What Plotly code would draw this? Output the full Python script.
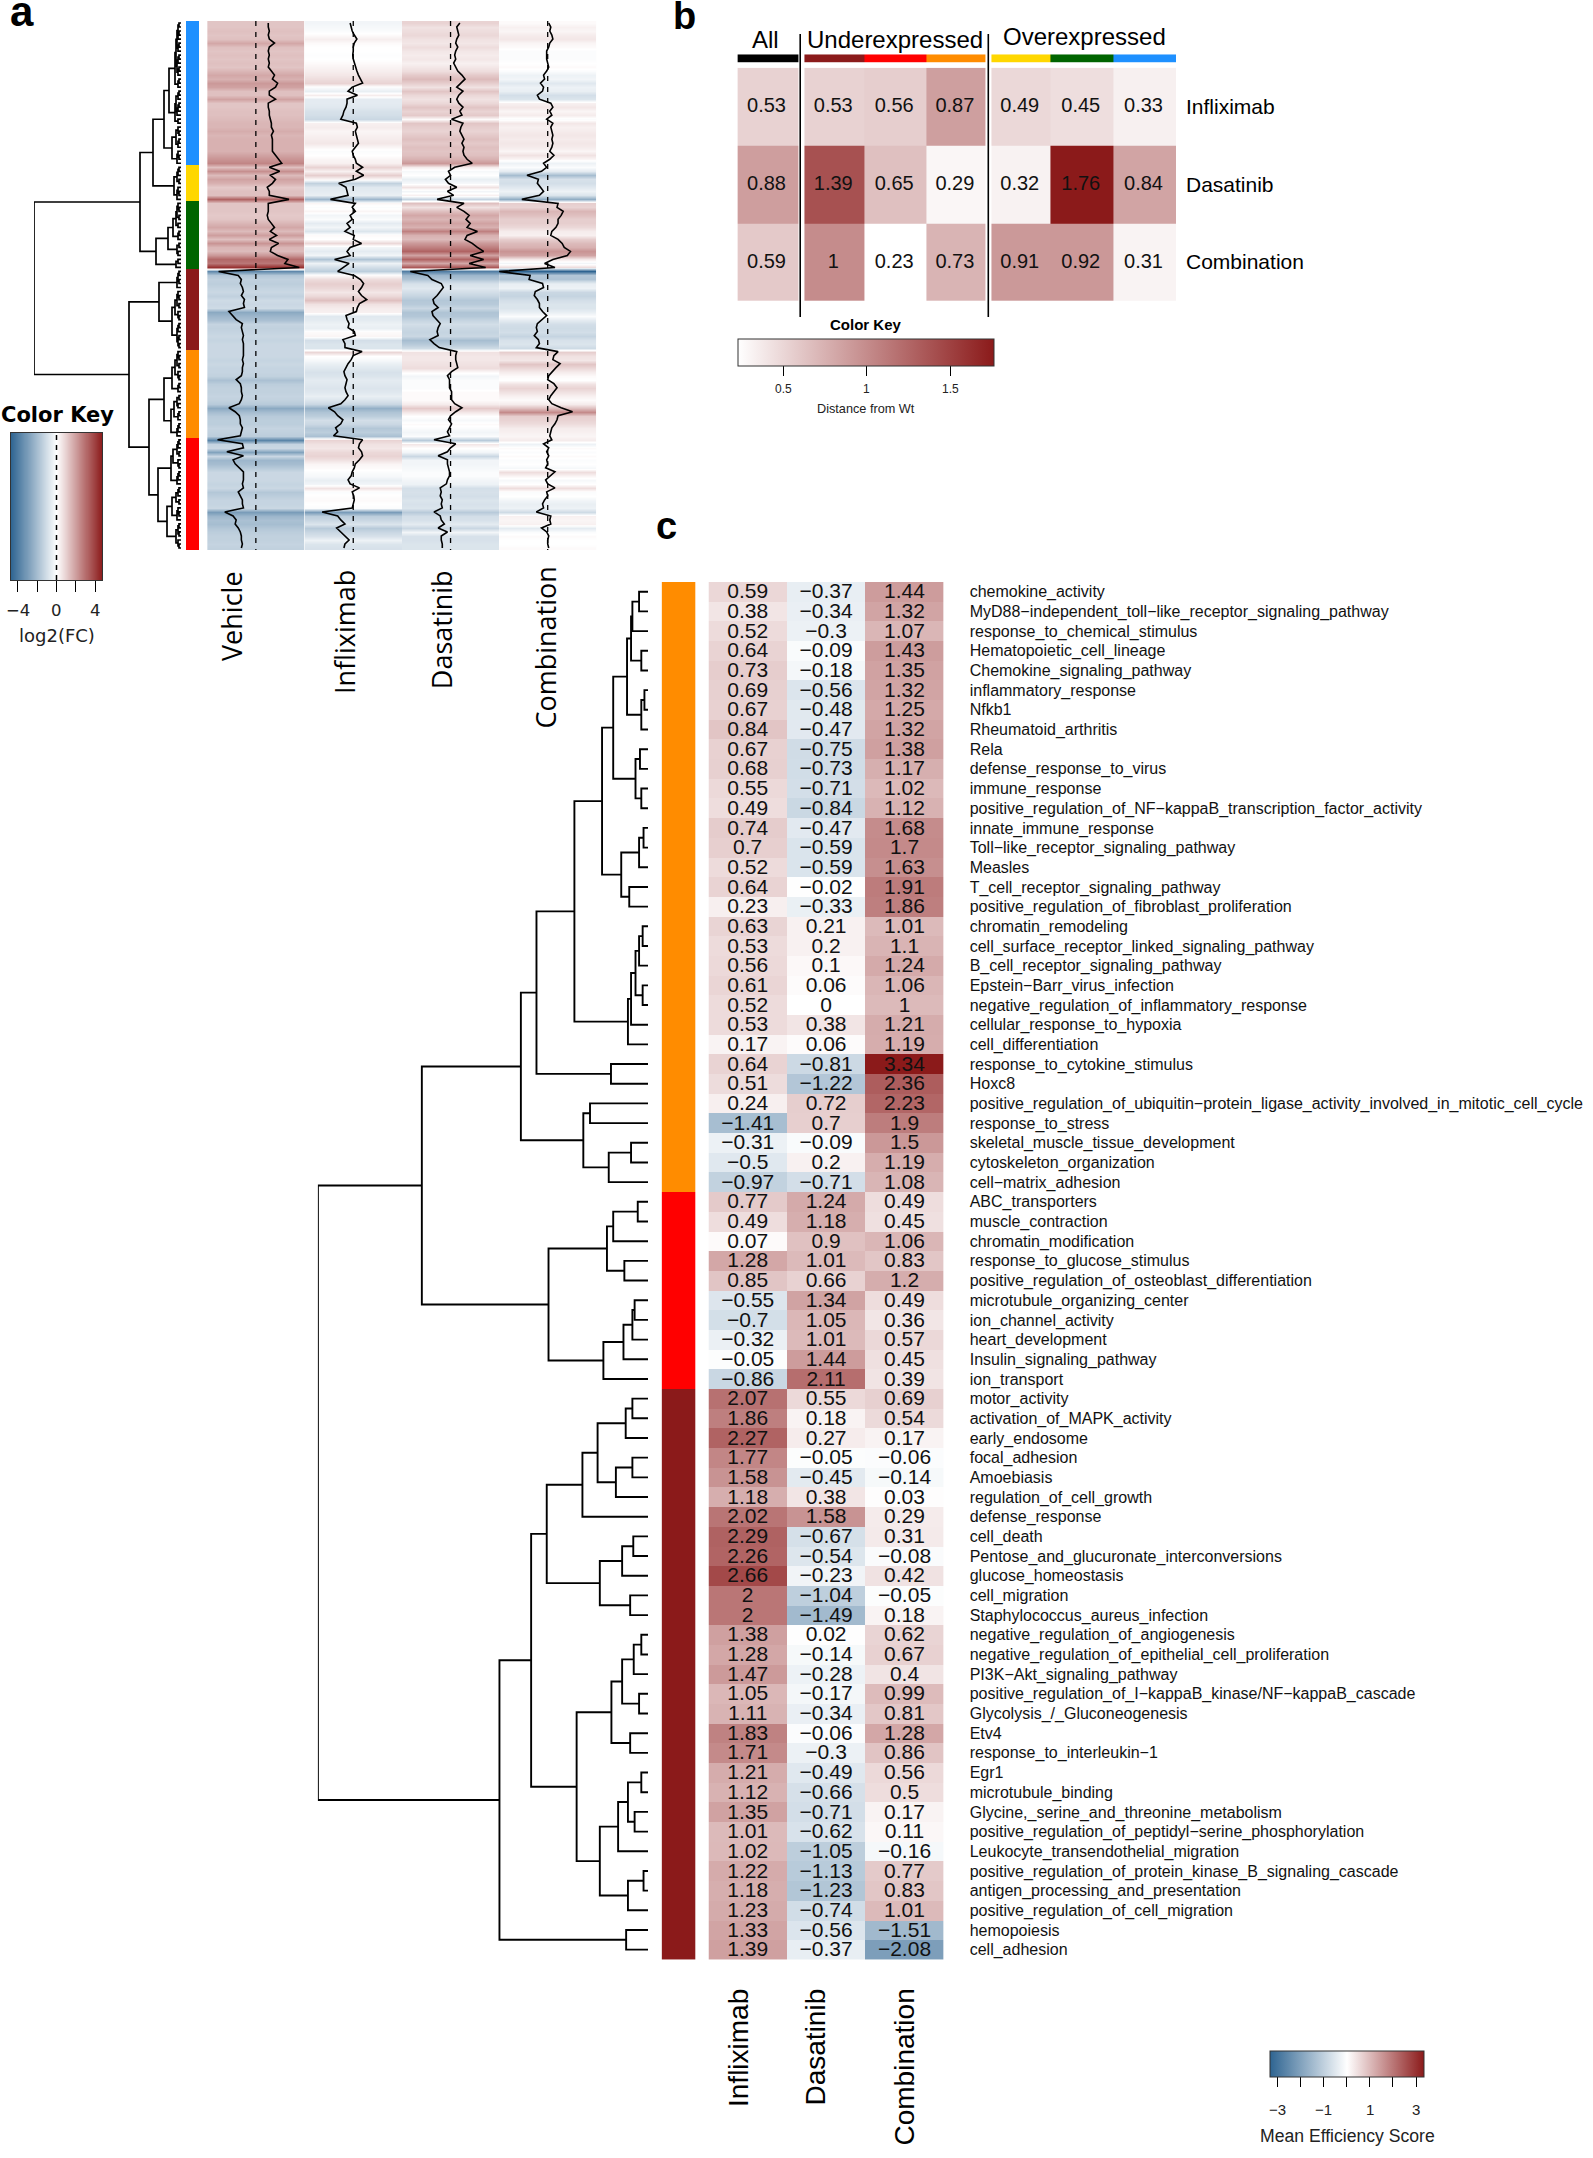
import numpy as np
import plotly.graph_objects as go

W, H = 1593, 2158
FONT = "Liberation Sans"

# ---------- palette ----------
DARKRED, RED, ORANGE, GOLD, GREEN, BLUE = "#8B1A1A", "#FF0000", "#FF8C00", "#FFD700", "#006400", "#1E90FF"
DIVERGING = [[0, "#2E6491"], [0.5, "#FFFFFF"], [1, "#8B1A1A"]]
SEQUENTIAL = [[0, "#FFFFFF"], [1, "#8B1A1A"]]

a_group_colors = [BLUE, GOLD, GREEN, DARKRED, ORANGE, RED]
a_group_sizes = [36, 9, 17, 20, 22, 28]
a_columns = ["Vehicle", "Infliximab", "Dasatinib", "Combination"]
a_vehicle = [
    1.2,1.2,1.3,1.2,1.3,1.8,1.3,1.2,1.3,1.2,1.3,1.2,1.5,1.8,1.6,2.1,1.9,1.3,1.3,1.9,1.2,1.2,1.3,1.3,1.4,1.5,1.5,1.7,1.5,1.6,1.6,1.6,1.6,1.9,2.2,2.5,
    1.3,2.3,1.4,1.9,1.6,1.1,1.3,1.3,3.2,
    1.2,1.2,1.2,1.1,1.2,1.5,1.8,1.4,2.0,1.3,2.2,1.5,1.4,2.1,3.1,2.8,4.2,
    -3.6,-1.7,-1.4,-1.5,-1.3,-1.2,-1.4,-1.1,-1.2,-1.1,-2.6,-2.2,-1.9,-1.3,-1.4,-1.3,-1.2,-1.3,-1.2,-1.2,
    -1.2,-1.2,-1.3,-1.2,-1.3,-1.3,-1.4,-1.9,-1.5,-1.4,-1.4,-1.3,-1.4,-1.6,-2.6,-2.0,-1.6,-1.5,-1.5,-1.3,-1.4,-1.5,
    -3.7,-1.3,-1.2,-2.8,-1.2,-2.2,-2.0,-1.6,-1.2,-1.2,-1.2,-1.3,-1.2,-1.7,-1.5,-1.3,-1.3,-1.2,-3.0,-2.2,-1.9,-2.0,-1.7,-1.5,-1.4,-1.4,-1.3,-1.4]
a_infliximab = [
    -.3,-.2,-.1,.1,.35,.1,0,0,-.05,0,.1,.25,.35,.5,.7,.9,-.1,-.5,.4,-.6,-.6,-.7,-.9,-1.0,-1.2,.3,.4,.2,.3,.4,.5,.2,-.1,0,.2,.3,
    .9,.3,1.0,.2,-1.4,-.7,-.6,-.5,-2.2,
    .2,-.1,.2,-.3,-.1,-.6,-.3,-.8,.1,0,.8,-.3,-.6,-.3,-1.8,-.4,-1.0,
    -1.5,.1,.7,1.0,.8,.5,.8,1.3,.6,.4,.3,-.7,-.6,-.4,-.5,.1,.2,-1.0,-.8,-.8,
    .85,0,-.2,-.5,-.7,-.9,-.8,-.6,-.7,-.8,-.7,-.5,-.8,-1.2,-2.4,-1.8,-1.5,-1.0,-1.2,-1.7,-1.5,-1.9,
    .9,.6,.5,.8,.9,.6,.2,.1,-.1,-.2,-.5,-.3,.6,-.1,.05,.1,0,-.1,-3.0,-1.5,-1.2,-.8,-1.6,-1.2,-.9,-.4,-.8,-.9]
a_dasatinib = [
    .9,.6,.7,.8,.6,.5,.7,.5,.4,.5,.3,.5,.7,1.1,1.4,1.0,.6,1.2,.8,.6,.8,1.2,.9,1.1,.1,1.2,1.0,.9,1.1,1.3,1.1,1.3,1.2,1.3,1.6,2.1,
    .4,-.2,0,-.5,-.2,.6,-.3,.3,-1.3,
    1.3,.6,1.3,1.8,1.5,1.9,1.6,2.6,1.6,1.4,2.1,2.6,3.2,1.9,3.2,1.8,3.4,
    -3.9,-2.2,-1.8,-.9,-.7,-1.0,-1.3,-1.7,-1.6,-1.2,-1.8,-1.7,-1.3,-1.0,-1.2,-1.3,-1.2,-2.0,-1.6,-1.1,
    .6,.5,.5,.6,.7,.1,-.3,-.1,-.1,-.1,.1,.1,.1,.4,1.1,.5,0,-.2,.1,-.1,-.3,-.1,
    -1.6,.5,0,-.3,-1.2,-.3,-.3,-.2,-.1,-.1,-.3,-.4,-1.0,-.9,-1.0,-.8,-.9,-.8,-1.6,-1.0,-.9,-.6,-1.2,-.3,-.9,-.9,-.8,-.8]
a_combination = [
    .1,.3,.2,.4,.5,.2,.1,-.1,-.1,-.1,0,.1,-.1,-.4,-.3,-.7,-.4,-.5,-1.0,-.8,.3,.5,.2,.4,-.1,.5,.3,.4,.5,.4,.5,.4,.2,.6,.2,-.4,
    -.1,-.6,-2.0,-.9,-1.0,-.7,-.4,-.8,-2.5,
    1.0,.9,1.5,1.3,1.0,1.0,.8,.4,.3,1.0,1.4,1.6,2.2,1.9,.5,-.3,.7,
    -4.7,-1.7,-1.8,-.5,-.4,-1.2,-1.3,-1.0,-.8,-.8,-.5,-.1,-.6,-1.0,-1.1,-1.0,-1.3,-.9,-.8,-1.1,
    1.0,.6,.5,1.2,.8,.4,.1,0,.6,.9,.6,.3,.1,.4,1.3,2.4,1.0,.9,.7,.4,.3,.2,
    .4,-.4,.1,-.1,.1,-.1,0,-.2,.7,.2,-.2,0,.7,-.1,0,-.3,-.5,-.4,-1.1,.3,.2,.3,-.6,-.1,.1,0,0,.1]
# merge height between each pair of neighbouring rows of the panel a tree
a_tree_gaps = [
    2,3,2,3,4,2,3,5,2,3,4,2,3,6,2,3,12,2,3,5,2,3,4,6,3,17,3,2,5,2,3,9,3,2,4,
    28,
    2,3,4,2,7,3,2,4,
    41,
    3,2,4,2,5,3,8,2,3,13,2,4,3,25,3,5,
    147,
    2,3,2,4,22,3,2,4,2,6,3,2,9,2,3,4,2,3,2,
    52,
    3,2,4,2,6,3,2,9,2,3,17,2,4,3,7,2,3,10,2,3,4,
    32,
    2,3,4,2,8,3,2,10,2,3,4,23,2,3,5,2,9,3,2,4,14,2,3,2,5,3,2]
a_key_ticks = [-4, -2, 0, 2, 4]
a_key_labels = ["\u22124", "", "0", "", "4"]
A_LIMIT = 4.7

# ---------- panel b ----------
b_group_colors = ["#000000", DARKRED, RED, ORANGE, GOLD, GREEN, BLUE]
b_rows = ["Infliximab", "Dasatinib", "Combination"]
b_values = [[0.53, 0.53, 0.56, 0.87, 0.49, 0.45, 0.33],
            [0.88, 1.39, 0.65, 0.29, 0.32, 1.76, 0.84],
            [0.59, 1, 0.23, 0.73, 0.91, 0.92, 0.31]]
b_key_ticks = [0.5, 1, 1.5]
b_headers = ["All", "Underexpressed", "Overexpressed"]

# ---------- panel c ----------
c_terms = ["chemokine_activity", "MyD88\u2212independent_toll\u2212like_receptor_signaling_pathway", "response_to_chemical_stimulus",
    "Hematopoietic_cell_lineage", "Chemokine_signaling_pathway", "inflammatory_response", "Nfkb1", "Rheumatoid_arthritis", "Rela",
    "defense_response_to_virus", "immune_response", "positive_regulation_of_NF\u2212kappaB_transcription_factor_activity",
    "innate_immune_response", "Toll\u2212like_receptor_signaling_pathway", "Measles", "T_cell_receptor_signaling_pathway",
    "positive_regulation_of_fibroblast_proliferation", "chromatin_remodeling", "cell_surface_receptor_linked_signaling_pathway",
    "B_cell_receptor_signaling_pathway", "Epstein\u2212Barr_virus_infection", "negative_regulation_of_inflammatory_response",
    "cellular_response_to_hypoxia", "cell_differentiation", "response_to_cytokine_stimulus", "Hoxc8",
    "positive_regulation_of_ubiquitin\u2212protein_ligase_activity_involved_in_mitotic_cell_cycle", "response_to_stress",
    "skeletal_muscle_tissue_development", "cytoskeleton_organization", "cell\u2212matrix_adhesion",
    "ABC_transporters", "muscle_contraction", "chromatin_modification", "response_to_glucose_stimulus",
    "positive_regulation_of_osteoblast_differentiation", "microtubule_organizing_center", "ion_channel_activity", "heart_development",
    "Insulin_signaling_pathway", "ion_transport",
    "motor_activity", "activation_of_MAPK_activity", "early_endosome", "focal_adhesion", "Amoebiasis", "regulation_of_cell_growth",
    "defense_response", "cell_death", "Pentose_and_glucuronate_interconversions", "glucose_homeostasis", "cell_migration",
    "Staphylococcus_aureus_infection", "negative_regulation_of_angiogenesis", "negative_regulation_of_epithelial_cell_proliferation",
    "PI3K\u2212Akt_signaling_pathway", "positive_regulation_of_I\u2212kappaB_kinase/NF\u2212kappaB_cascade", "Glycolysis_/_Gluconeogenesis",
    "Etv4", "response_to_interleukin\u22121", "Egr1", "microtubule_binding", "Glycine,_serine_and_threonine_metabolism",
    "positive_regulation_of_peptidyl\u2212serine_phosphorylation", "Leukocyte_transendothelial_migration",
    "positive_regulation_of_protein_kinase_B_signaling_cascade", "antigen_processing_and_presentation",
    "positive_regulation_of_cell_migration", "hemopoiesis", "cell_adhesion"]
c_infliximab = [0.59,0.38,0.52,0.64,0.73,0.69,0.67,0.84,0.67,0.68,0.55,0.49,0.74,0.7,0.52,0.64,0.23,0.63,0.53,0.56,0.61,0.52,0.53,0.17,0.64,0.51,0.24,-1.41,-0.31,-0.5,-0.97,
    0.77,0.49,0.07,1.28,0.85,-0.55,-0.7,-0.32,-0.05,-0.86,
    2.07,1.86,2.27,1.77,1.58,1.18,2.02,2.29,2.26,2.66,2,2,1.38,1.28,1.47,1.05,1.11,1.83,1.71,1.21,1.12,1.35,1.01,1.02,1.22,1.18,1.23,1.33,1.39]
c_dasatinib = [-0.37,-0.34,-0.3,-0.09,-0.18,-0.56,-0.48,-0.47,-0.75,-0.73,-0.71,-0.84,-0.47,-0.59,-0.59,-0.02,-0.33,0.21,0.2,0.1,0.06,0,0.38,0.06,-0.81,-1.22,0.72,0.7,-0.09,0.2,-0.71,
    1.24,1.18,0.9,1.01,0.66,1.34,1.05,1.01,1.44,2.11,
    0.55,0.18,0.27,-0.05,-0.45,0.38,1.58,-0.67,-0.54,-0.23,-1.04,-1.49,0.02,-0.14,-0.28,-0.17,-0.34,-0.06,-0.3,-0.49,-0.66,-0.71,-0.62,-1.05,-1.13,-1.23,-0.74,-0.56,-0.37]
c_combination = [1.44,1.32,1.07,1.43,1.35,1.32,1.25,1.32,1.38,1.17,1.02,1.12,1.68,1.7,1.63,1.91,1.86,1.01,1.1,1.24,1.06,1,1.21,1.19,3.34,2.36,2.23,1.9,1.5,1.19,1.08,
    0.49,0.45,1.06,0.83,1.2,0.49,0.36,0.57,0.45,0.39,
    0.69,0.54,0.17,-0.06,-0.14,0.03,0.29,0.31,-0.08,0.42,-0.05,0.18,0.62,0.67,0.4,0.99,0.81,1.28,0.86,0.56,0.5,0.17,0.11,-0.16,0.77,0.83,1.01,-1.51,-2.08]
c_group_colors = [ORANGE, RED, DARKRED]
c_group_sizes = [31, 10, 29]
c_tree_gaps = [20,35,38,15,47,8,15,78,18,28,15,103,10,20,60,42,165,12,20,28,12,38,45,250,83,285,130,145,38,88,507,
    23,78,92,53,223,30,35,55,100,
    740,
    35,50,113,35,72,147,227,33,58,108,40,262,15,32,58,20,82,40,160,15,45,30,67,108,10,45,333,49]
c_columns = ["Infliximab", "Dasatinib", "Combination"]
c_key_ticks = [-3, -2, -1, 0, 1, 2, 3]
C_LIMIT = 3.34

# ---------- helpers ----------
fig = go.Figure()
axis_count = [0]
annotations, shapes = [], []


def axes(x0, x1, y0, y1, xrange, yrange, **yopts):
    """Create an x/y axis pair that occupies the given pixel box."""
    axis_count[0] += 1
    n = axis_count[0]
    s = "" if n == 1 else str(n)
    base = dict(showgrid=False, zeroline=False, visible=False, fixedrange=True)
    fig.layout["xaxis" + s] = dict(base, domain=[x0 / W, x1 / W], range=xrange, anchor="y" + s)
    fig.layout["yaxis" + s] = dict(base, domain=[1 - y1 / H, 1 - y0 / H], range=yrange, anchor="x" + s, **yopts)
    return "x" + s, "y" + s


def text(t, px, py, size, family=FONT, angle=0, xa="center", ya="middle", bold=False, color="#000000"):
    annotations.append(dict(text=f"<b>{t}</b>" if bold else t, x=px / W, y=1 - py / H, xref="paper", yref="paper",
                            showarrow=False, xanchor=xa, yanchor=ya, textangle=angle,
                            font=dict(family=family, size=size, color=color)))


def stepped(colors):
    n = len(colors)
    out = []
    for i, c in enumerate(colors):
        out += [[i / n, c], [(i + 1) / n, c]]
    return out


def side_bar(colors, sizes, xa, ya):
    codes = np.repeat(np.arange(len(colors)), sizes)
    fig.add_trace(go.Heatmap(z=[[c] for c in codes], colorscale=stepped(colors), zmin=-0.5, zmax=len(colors) - 0.5,
                             showscale=False, xaxis=xa, yaxis=ya, hoverinfo="skip"))


def tree(gaps, lo=0, hi=None, xs=None, ys=None):
    """Turn neighbour merge heights into dendrogram segments; leaves sit at their row index."""
    if hi is None:
        hi = len(gaps)
    if lo == hi:
        return 0.0, float(lo)
    k = lo + int(np.argmax(gaps[lo:hi]))
    h = gaps[k]
    hl, yl = tree(gaps, lo, k, xs, ys)
    hr, yr = tree(gaps, k + 1, hi, xs, ys)
    xs += [hl, h, h, hr, None]
    ys += [yl, yl, yr, yr, None]
    return h, (yl + yr) / 2


def draw_tree(gaps, xa, ya, width):
    xs, ys = [], []
    tree(gaps, 0, None, xs, ys)
    fig.add_trace(go.Scatter(x=xs, y=ys, mode="lines", line=dict(color="#000000", width=width, shape="linear"),
                             xaxis=xa, yaxis=ya, cliponaxis=False, hoverinfo="skip"))


def fmt(v):
    return f"{v:g}".replace("-", "\u2212")


def colorkey(x0, x1, ytop, thick, ticks, ticklen=10):
    return dict(orientation="h", lenmode="pixels", len=x1 - x0, thicknessmode="pixels", thickness=thick,
                x=(x0 + x1) / 2 / W, xanchor="center", y=1 - ytop / H, yanchor="top", xpad=0, ypad=0,
                outlinecolor="#333333", outlinewidth=1, ticks="outside", ticklen=ticklen, tickwidth=1.3,
                tickcolor="#000000", tickmode="array", tickvals=ticks, showticklabels=False)


# ---------- panel a ----------
A_TOP, A_BOT = 21, 550
a_rows = sum(a_group_sizes)
a_yr = [a_rows - 0.5, -0.5]
xa, ya = axes(34, 181, A_TOP, A_BOT, [147, 0], a_yr)
draw_tree(a_tree_gaps, xa, ya, 1.7)
xa, ya = axes(186, 199.3, A_TOP, A_BOT, [-0.5, 0.5], a_yr)
side_bar(a_group_colors, a_group_sizes, xa, ya)
a_edges = [207.2, 304.5, 402.0, 499.1, 596.3]
a_label_px = [231, 344, 441.7, 545.6]
a_label_top = [569, 568, 568, 565]
for i, (name, vals) in enumerate(zip(a_columns, [a_vehicle, a_infliximab, a_dasatinib, a_combination])):
    xa, ya = axes(a_edges[i], a_edges[i + 1], A_TOP, A_BOT, [-A_LIMIT, A_LIMIT], a_yr)
    fig.add_trace(go.Heatmap(z=[[v, v] for v in vals], x=[-A_LIMIT, A_LIMIT], coloraxis="coloraxis", zsmooth="best",
                             xaxis=xa, yaxis=ya, hoverinfo="skip"))
    fig.add_trace(go.Scatter(x=[0, 0], y=[-0.5, a_rows - 0.5], mode="lines", xaxis=xa, yaxis=ya, hoverinfo="skip",
                             line=dict(color="#000000", width=1.3, dash="5px,6px")))
    fig.add_trace(go.Scatter(x=vals, y=list(range(a_rows)), mode="lines", xaxis=xa, yaxis=ya, cliponaxis=False,
                             hoverinfo="skip", line=dict(color="#000000", width=1.6, shape="linear")))
    text(name, a_label_px[i], a_label_top[i], 27, angle=-90, ya="top", family="Open Sans")

# panel a colour key: a ramp on its own axis so that the dashed zero line can sit on top of it
AK0, AK1 = 11, 102
xa, ya = axes(AK0, AK1, 433, 580, [-A_LIMIT, A_LIMIT], [0, 1])
xname, yname = xa.replace("x", "xaxis"), ya.replace("y", "yaxis")
fig.layout[xname].update(visible=True, side="bottom", showline=True, linecolor="#333333", mirror=True, ticks="outside",
                         ticklen=11, tickwidth=1.3, tickcolor="#000000", tickmode="array", tickvals=a_key_ticks,
                         showticklabels=False)
fig.layout[yname].update(visible=True, showline=True, linecolor="#333333", mirror=True, ticks="", showticklabels=False)
fig.add_trace(go.Heatmap(z=[np.linspace(-A_LIMIT, A_LIMIT, 181).tolist()], x=np.linspace(-A_LIMIT, A_LIMIT, 181).tolist(),
                         y=[0.5], coloraxis="coloraxis", xaxis=xa, yaxis=ya, hoverinfo="skip"))
fig.add_trace(go.Scatter(x=[0, 0], y=[0, 1], mode="lines", xaxis=xa, yaxis=ya, hoverinfo="skip",
                         line=dict(color="#000000", width=1.5, dash="5px,5px")))


def ak_px(v):
    return AK0 + (v + A_LIMIT) / (2 * A_LIMIT) * (AK1 - AK0)


for v, lab in zip(a_key_ticks, a_key_labels):
    if lab:
        text(lab, ak_px(v), 610, 16.5, family="DejaVu Sans", color="#222222")
text("log2(FC)", 57, 636, 18, family="DejaVu Sans", color="#222222")
text("Color Key", 57, 415, 21, family="DejaVu Sans", bold=True)
text("a", 22, 11, 42, bold=True)

# ---------- panel b ----------
b_edges = [0, 1, 1.11, 2.09, 3.12, 4.09, 4.19, 5.16, 6.2, 7.23]
b_cols = [0, 2, 3, 4, 6, 7, 8]
B_L, B_R = 737.4, 1176
xa, ya = axes(B_L, B_R, 54.3, 62.7, [0, 7.23], [-0.5, 0.5])
top = [None] * 9
for c, code in zip(b_cols, range(7)):
    top[c] = code
fig.add_trace(go.Heatmap(z=[top], x=b_edges, colorscale=stepped(b_group_colors), zmin=-0.5, zmax=6.5, showscale=False,
                         xaxis=xa, yaxis=ya, hoverinfo="skip", hoverongaps=False))
xa, ya = axes(B_L, B_R, 67.7, 301, [0, 7.23], [2.5, -0.5])
z = []
for row in b_values:
    r = [None] * 9
    for c, v in zip(b_cols, row):
        r[c] = v
    z.append(r)
fig.add_trace(go.Heatmap(z=z, x=b_edges, coloraxis="coloraxis2", xaxis=xa, yaxis=ya, hoverinfo="skip", hoverongaps=False))
cx, cy, ct = [], [], []
for j, row in enumerate(b_values):
    for c, v in zip(b_cols, row):
        cx.append((b_edges[c] + b_edges[c + 1]) / 2 - 0.02)
        cy.append(j + 0.01)
        ct.append(fmt(v))
fig.add_trace(go.Scatter(x=cx, y=cy, text=ct, mode="text", textposition="middle center", xaxis=xa, yaxis=ya, hoverinfo="skip",
                         textfont=dict(family=FONT, size=20, color="#111111")))
for name, py in zip(b_rows, [107, 185, 261]):
    text(name, 1184, py, 21, xa="left")
for name, px, py in zip(b_headers, [765, 895, 1084], [39, 39, 37]):
    text(name, px, py, 24)
for px in [800.2, 988.3]:
    shapes.append(dict(type="line", xref="paper", yref="paper", x0=px / W, x1=px / W, y0=1 - 34 / H, y1=1 - 317 / H,
                       line=dict(color="#000000", width=1.6)))
BK0, BK1 = 737.9, 994
b_low, b_high = 0.23, 1.76
for v in b_key_ticks:
    text(fmt(v), BK0 + (v - b_low) / (b_high - b_low) * (BK1 - BK0), 389, 12, color="#222222")
text("Color Key", 866, 324, 15, bold=True)
text("Distance from Wt", 866, 409, 12.7, color="#222222")
text("b", 684, 16, 38, bold=True)

# ---------- panel c ----------
C_TOP, C_BOT = 581.9, 1959.5
c_n = len(c_terms)
c_yr = [c_n - 0.5, -0.5]
xa, ya = axes(317.9, 648, C_TOP, C_BOT, [740, 0], c_yr)
draw_tree(c_tree_gaps, xa, ya, 1.9)
xa, ya = axes(661.6, 695.5, C_TOP, C_BOT, [-0.5, 0.5], c_yr)
side_bar(c_group_colors, c_group_sizes, xa, ya)
xa, ya = axes(708.5, 943.7, C_TOP, C_BOT, [-0.5, 2.5], c_yr)
fig.layout[ya.replace("y", "yaxis")].update(visible=True, side="right", showline=False, ticks="", tickmode="array",
                                            tickvals=list(range(c_n)), ticktext=c_terms, ticklabelstandoff=25,
                                            tickfont=dict(family=FONT, size=16, color="#111111"))
c_matrix = [list(r) for r in zip(c_infliximab, c_dasatinib, c_combination)]
fig.add_trace(go.Heatmap(z=c_matrix, coloraxis="coloraxis3", xaxis=xa, yaxis=ya, hoverinfo="skip"))
cx, cy, ct = [], [], []
for j, row in enumerate(c_matrix):
    for i, v in enumerate(row):
        cx.append(i)
        cy.append(j + 0.07)
        ct.append(fmt(v))
fig.add_trace(go.Scatter(x=cx, y=cy, text=ct, mode="text", textposition="middle center", xaxis=xa, yaxis=ya, hoverinfo="skip",
                         textfont=dict(family=FONT, size=21, color="#111111")))
for name, px in zip(c_columns, [738, 815, 904]):
    text(name, px, 1987, 28, angle=-90, ya="top")
CK0, CK1 = 1270, 1423.7
for v in [-3, -1, 1, 3]:
    text(fmt(v), CK0 + (v + C_LIMIT) / (2 * C_LIMIT) * (CK1 - CK0), 2109, 15, color="#222222")
text("Mean Efficiency Score", 1347, 2136, 17.6, color="#222222")
text("c", 666, 526, 38, bold=True)

fig.update_layout(
    width=W, height=H, margin=dict(l=0, r=0, t=0, b=0, pad=0, autoexpand=False),
    paper_bgcolor="#FFFFFF", plot_bgcolor="rgba(0,0,0,0)", showlegend=False,
    font=dict(family=FONT), annotations=annotations, shapes=shapes,
    coloraxis=dict(cmin=-A_LIMIT, cmax=A_LIMIT, colorscale=DIVERGING, showscale=False),
    coloraxis2=dict(cmin=b_low, cmax=b_high, colorscale=SEQUENTIAL, colorbar=colorkey(BK0, BK1, 339, 27, b_key_ticks)),
    coloraxis3=dict(cmin=-C_LIMIT, cmax=C_LIMIT, colorscale=DIVERGING, colorbar=colorkey(CK0, CK1, 2051, 26, c_key_ticks)),
)
fig.write_html("out.html", post_script="document.body.style.margin='0';", config=dict(displayModeBar=False))
